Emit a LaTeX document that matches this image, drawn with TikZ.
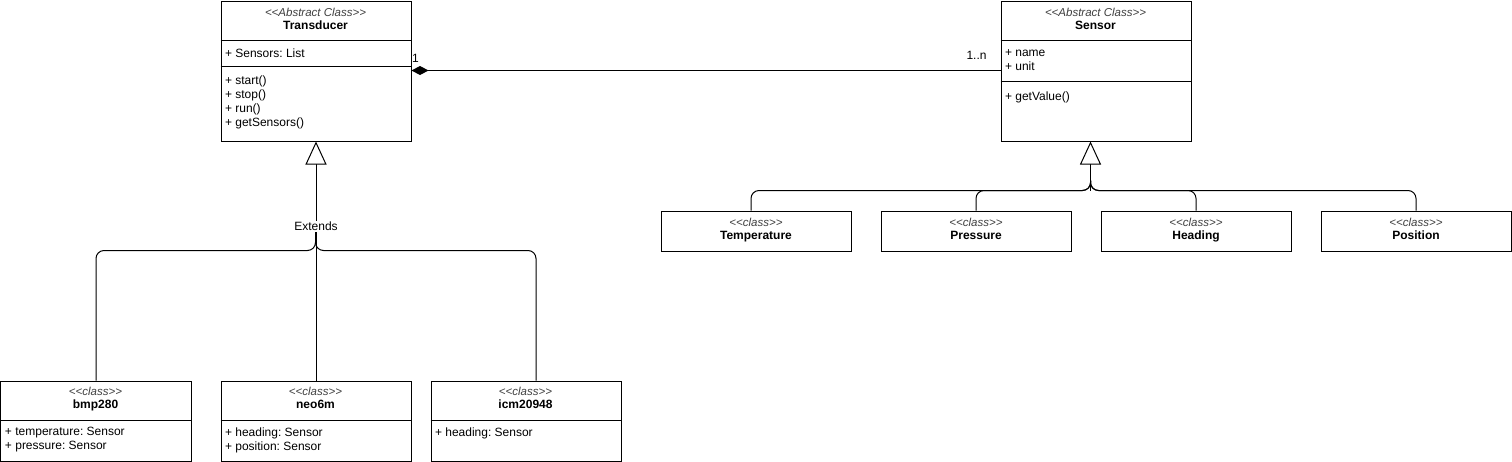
\documentclass[tikz,border=0pt]{standalone}
\usepackage{fontspec}
\setmainfont{Liberation Sans}
\usetikzlibrary{arrows.meta}
\frenchspacing

\newcommand{\stereotype}[1]{{\fontsize{11.5}{13}\selectfont\itshape\color{black!75}#1}}

\begin{document}
\begin{tikzpicture}[x=1pt,y=-1pt,line width=1pt,
    font=\fontsize{12}{14}\selectfont,
    classbox/.style={draw,fill=white,anchor=north west,inner sep=0pt,
      minimum width=190pt,minimum height=#1},
    classtitle/.style={align=center,inner sep=0pt},
    members/.style={align=left,anchor=west,inner sep=0pt},
    genline/.style={rounded corners=8pt},
    gentip/.style={-{Triangle[length=23pt,width=21pt,fill=white]}}
  ]
  \useasboundingbox (-0.5,-0.5) rectangle (1511.5,460.5);

  % abstract classes
  \node[classbox=140pt] (trans) at (220,0) {};
  \node[classtitle] (trans-t) at (315,19.5)
    {\stereotype{<{}<Abstract Class>{}>}\\[-1pt]\textbf{Transducer}\vphantom{g}};
  \draw (220,40) -- (410,40);
  \draw (220,66) -- (410,66);
  \node[members] (trans-a) at (224,52.5) {+ Sensors: List};
  \node[members] (trans-m) at (224,102) {+ start()\\+ stop()\\+ run()\\+ getSensors()};

  \node[classbox=140pt] (sensor) at (1000,0) {};
  \node[classtitle] (sensor-t) at (1095,19.5)
    {\stereotype{<{}<Abstract Class>{}>}\\[-1pt]\textbf{Sensor}\vphantom{g}};
  \draw (1000,40) -- (1190,40);
  \draw (1000,81) -- (1190,81);
  \node[members] (sensor-a) at (1004,59.5) {+ name\\+ unit};
  \node[members] (sensor-m) at (1004,97) {+ getValue()};

  % composition
  \draw[{Diamond[length=17pt,width=9pt]}-] ([yshift=-70pt]trans.north east) -- ([yshift=-70pt]sensor.north west);
  \node[inner sep=0pt] (mult-one) at (415,58) {1};
  \node[inner sep=0pt] (mult-many) at (976,55) {1..n};

  % sensor kinds
  \foreach \name/\label/\x in {temp/Temperature/660,press/Pressure/880,head/Heading/1100,pos/Position/1320}{
    \node[classbox=40pt] (\name) at (\x,210) {};
    \node[classtitle] (\name-t) at ([yshift=-19.5pt]\name.north)
      {\stereotype{<{}<class>{}>}\\[-1pt]\textbf{\label}\vphantom{g}};
  }

  \coordinate (sjoin) at (1090,190);
  \draw[gentip] (sjoin) -- (sjoin |- sensor.south);
  \draw[genline] ([xshift=-5pt]temp.north) |- (sjoin) -- ++(0,-10);
  \draw[genline] (press.north) |- (sjoin) -- ++(0,-10);
  \draw[genline] (head.north) |- (sjoin) -- ++(0,-10);
  \draw[genline] (pos.north) |- (sjoin) -- ++(0,-10);

  % transducer implementations
  \node[classbox=80pt] (bmp) at (0,380) {};
  \node[classtitle] (bmp-t) at (95,399)
    {\stereotype{<{}<class>{}>}\\[-1pt]\textbf{bmp280}\vphantom{g}};
  \draw (0,420) -- (190,420);
  \node[members] (bmp-a) at (4,439.5) {+ temperature: Sensor\\+ pressure: Sensor};

  \node[classbox=80pt] (neo) at (220,380) {};
  \node[classtitle] (neo-t) at (315,399)
    {\stereotype{<{}<class>{}>}\\[-1pt]\textbf{neo6m}\vphantom{g}};
  \draw (220,420) -- (410,420);
  \node[members] (neo-a) at (224,439.5) {+ heading: Sensor\\+ position: Sensor};

  \node[classbox=80pt] (icm) at (430,380) {};
  \node[classtitle] (icm-t) at (525,399)
    {\stereotype{<{}<class>{}>}\\[-1pt]\textbf{icm20948}\vphantom{g}};
  \draw (430,420) -- (620,420);
  \node[members] (icm-a) at (434,432.5) {+ heading: Sensor};

  \coordinate (tjoin) at (315,250);
  \draw[genline] (bmp.north) |- (tjoin) -- ++(0,-20);
  \draw[genline] ([xshift=10pt]icm.north) |- (tjoin) -- ++(0,-20);
  \draw[gentip] (neo.north) -- node[pos=0.646,fill=white,inner sep=1pt] (extends) {Extends} (trans.south);
\end{tikzpicture}
\end{document}
